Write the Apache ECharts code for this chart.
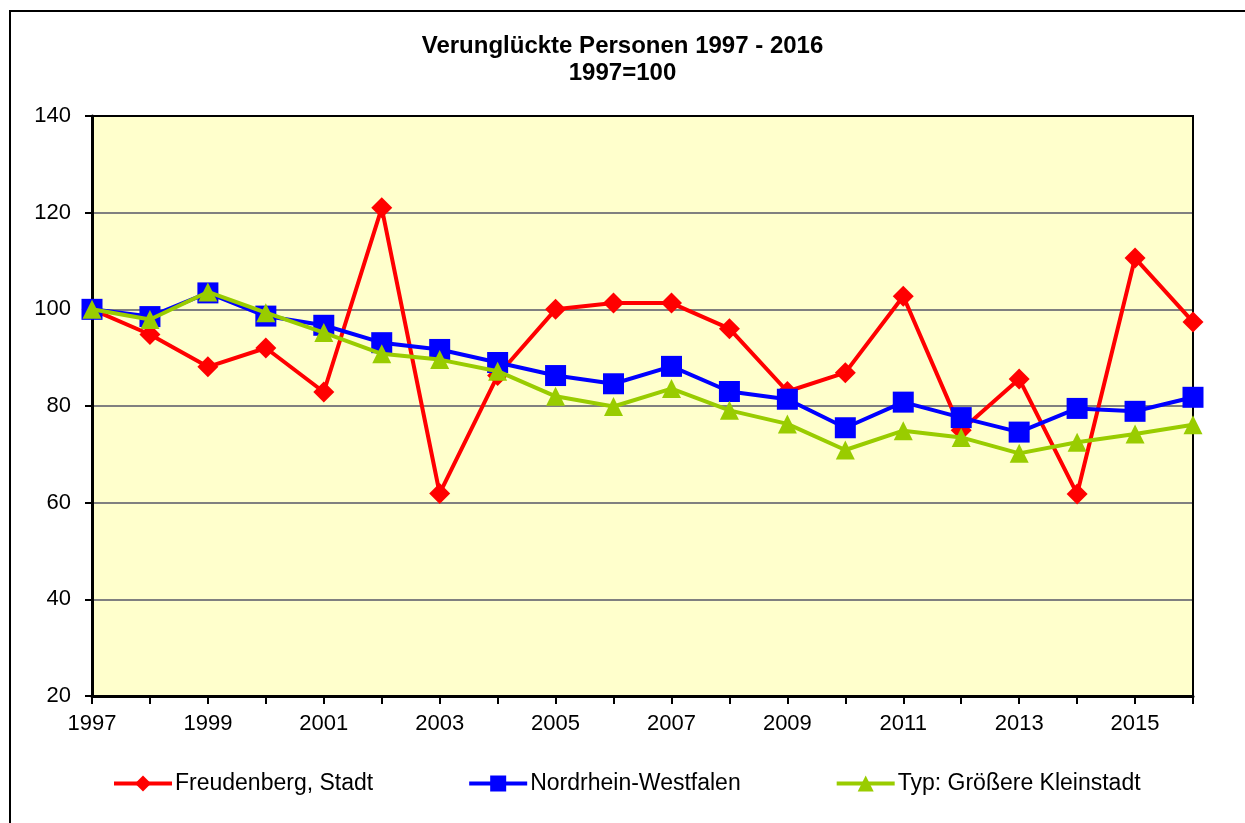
<!DOCTYPE html>
<html>
<head>
<meta charset="utf-8">
<script src="https://cdn.jsdelivr.net/npm/echarts@6/dist/echarts.min.js"></script>
<style>
  html, body { margin: 0; padding: 0; background: #fff; }
  #chart { width: 1245px; height: 823px; }
</style>
</head>
<body>
<div id="chart"></div>
<script>
  const years = ['1997', '1998', '1999', '2000', '2001', '2002', '2003', '2004', '2005', '2006',
    '2007', '2008', '2009', '2010', '2011', '2012', '2013', '2014', '2015', '2016']

  const freudenberg = [100, 94.8, 88.1, 92.0, 82.9, 121.0, 61.9, 86.3, 100.0, 101.3,
    101.3, 96.0, 83.0, 86.9, 102.7, 75.0, 85.6, 61.8, 110.6, 97.4]
  const nrw = [100, 98.5, 103.4, 98.6, 96.7, 93.1, 91.7, 89.0, 86.3, 84.6,
    88.2, 83.0, 81.4, 75.5, 80.8, 77.6, 74.6, 79.5, 78.9, 81.8]
  const kleinstadt = [100, 97.9, 103.6, 99.3, 95.2, 90.8, 89.6, 87.2, 82.0, 79.9,
    83.6, 79.1, 76.3, 70.9, 74.9, 73.5, 70.2, 72.5, 74.2, 76.1]

  const seriesNames = ['Freudenberg, Stadt', 'Nordrhein-Westfalen', 'Typ: Größere Kleinstadt']

  const chart = echarts.init(document.getElementById('chart'))
  const font = '"Liberation Sans", Arial, sans-serif'

  // frame lines only (top / right side of the plot)
  const frameLine = { show: true, lineStyle: { color: '#000', width: 2 } }

  chart.setOption({
    animation: false,
    textStyle: { fontFamily: font },
    graphic: [
      {
        type: 'rect',
        shape: { x: 10, y: 11, width: 1250, height: 830 },
        style: { fill: 'none', stroke: '#000', lineWidth: 2 }
      }
    ],
    title: {
      text: 'Verunglückte Personen 1997 - 2016\n1997=100',
      left: 'center',
      top: 28,
      textStyle: {
        fontFamily: font,
        fontSize: 24,
        fontWeight: 'bold',
        color: '#000',
        lineHeight: 27
      }
    },
    legend: {
      data: seriesNames,
      left: 107,
      top: 767,
      itemGap: 94,
      itemWidth: 58,
      itemHeight: 20,
      lineStyle: { width: 4 },
      textStyle: { fontFamily: font, fontSize: 23, color: '#000', padding: [0, 0, 0, -2] }
    },
    grid: {
      left: 92,
      right: 52,
      top: 116,
      bottom: 127,
      show: true,
      backgroundColor: '#FFFFCC',
      borderColor: '#000',
      borderWidth: 2
    },
    xAxis: [
      {
        type: 'category',
        data: years,
        boundaryGap: false,
        axisLine: { lineStyle: { color: '#000', width: 3 } },
        axisTick: { interval: 0, length: 8, lineStyle: { color: '#000', width: 2 } },
        axisLabel: { interval: 1, fontSize: 22, color: '#000', margin: 17, fontFamily: font }
      },
      {
        type: 'category',
        data: years,
        boundaryGap: false,
        position: 'top',
        axisLine: frameLine,
        axisTick: { show: false },
        axisLabel: { show: false }
      }
    ],
    yAxis: [
      {
        type: 'value',
        min: 20,
        max: 140,
        interval: 20,
        axisLine: { show: true, lineStyle: { color: '#000', width: 3 } },
        axisTick: { show: true, length: 7, lineStyle: { color: '#000', width: 2 } },
        axisLabel: { fontSize: 22, color: '#000', margin: 21, fontFamily: font },
        splitLine: { lineStyle: { color: '#808080', width: 2 } }
      },
      {
        type: 'value',
        min: 20,
        max: 140,
        interval: 20,
        position: 'right',
        axisLine: frameLine,
        axisTick: { show: false },
        axisLabel: { show: false },
        splitLine: { show: false }
      }
    ],
    series: [
      {
        name: seriesNames[0],
        type: 'line',
        data: freudenberg,
        symbol: 'diamond',
        symbolSize: 21,
        lineStyle: { color: '#FF0000', width: 4 },
        itemStyle: { color: '#FF0000' },
        z: 2
      },
      {
        name: seriesNames[1],
        type: 'line',
        data: nrw,
        symbol: 'rect',
        symbolSize: 21,
        lineStyle: { color: '#0000FF', width: 4 },
        itemStyle: { color: '#0000FF' },
        z: 3
      },
      {
        name: seriesNames[2],
        type: 'line',
        data: kleinstadt,
        symbol: 'triangle',
        symbolSize: 19,
        lineStyle: { color: '#99CC00', width: 4 },
        itemStyle: { color: '#99CC00' },
        z: 4
      }
    ]
  })
</script>
</body>
</html>
